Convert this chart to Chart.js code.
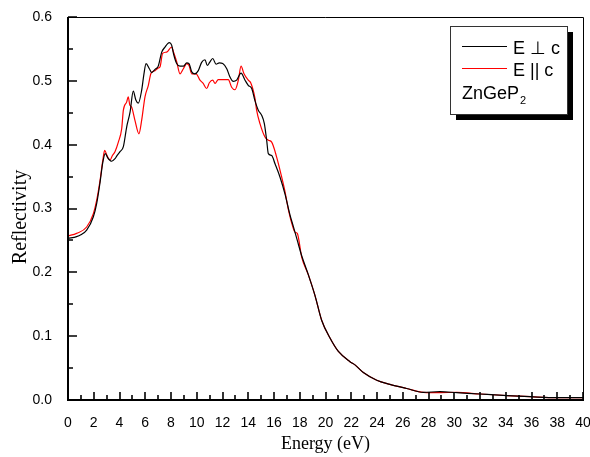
<!DOCTYPE html>
<html>
<head>
<meta charset="utf-8">
<title>ZnGeP2 reflectivity</title>
<script src="https://cdn.jsdelivr.net/npm/chart.js@4.4.1/dist/chart.umd.min.js"></script>
<style>
  html, body { margin: 0; padding: 0; background: #fff; }
  #wrap { width: 590px; height: 457px; }
</style>
</head>
<body>
<div id="wrap"><canvas id="refl" width="590" height="457"></canvas></div>
<script>
// E perpendicular to c
var energyPerp = [0, 0.67, 1.0, 1.45, 1.97, 2.23, 2.49, 2.7, 2.9, 3.1, 3.39, 3.65, 3.78, 4.04, 4.3, 4.56, 4.82, 5.07,
  5.27, 5.46, 5.72, 5.9, 6.06, 6.32, 6.5, 6.76, 7.01, 7.28, 7.5, 7.87, 8.05, 8.2, 8.44, 8.7, 8.96, 9.22, 9.4,
  9.61, 9.86, 10.12, 10.38, 10.64, 10.82, 11.0, 11.24, 11.5, 11.75, 12.02, 12.33, 12.58, 12.84, 13.1, 13.44,
  13.75, 14.0, 14.27, 14.52, 14.78, 15.04, 15.25, 15.43, 15.56, 15.82, 16.08, 16.47, 16.85, 17.24, 17.5, 17.81,
  18.15, 18.67, 19.18, 19.7, 20.35, 21.0, 21.9, 22.29, 22.94, 23.98, 25.0, 26.3, 27.6, 28.9, 30.2, 32.0, 34.1,
  35.9, 37.95, 40];
var reflPerp = [0.253, 0.256, 0.259, 0.266, 0.287, 0.308, 0.341, 0.372, 0.386, 0.379, 0.374, 0.378, 0.382, 0.389,
  0.397, 0.428, 0.451, 0.484, 0.470, 0.465, 0.485, 0.511, 0.527, 0.519, 0.513, 0.518, 0.523, 0.545, 0.552, 0.560,
  0.556, 0.542, 0.527, 0.523, 0.523, 0.528, 0.527, 0.514, 0.511, 0.516, 0.529, 0.533, 0.524, 0.529, 0.535, 0.526,
  0.528, 0.527, 0.519, 0.506, 0.499, 0.501, 0.512, 0.501, 0.493, 0.488, 0.469, 0.454, 0.446, 0.433, 0.407, 0.386,
  0.383, 0.370, 0.349, 0.323, 0.290, 0.272, 0.250, 0.226, 0.196, 0.164, 0.125, 0.097, 0.076, 0.060, 0.055, 0.043,
  0.031, 0.0245, 0.018, 0.012, 0.013, 0.0115, 0.0094, 0.007, 0.0052, 0.0036, 0.0036];

// E parallel to c
var energyPar = [0, 0.67, 1.45, 1.97, 2.23, 2.49, 2.7, 2.85, 3.05, 3.26, 3.45, 3.65, 3.91, 4.17, 4.3, 4.56, 4.68,
  4.8, 4.94, 5.2, 5.51, 5.72, 5.98, 6.24, 6.45, 6.76, 7.01, 7.15, 7.35, 7.66, 8.05, 8.18, 8.44, 8.7, 8.96, 9.22,
  9.4, 9.61, 9.95, 10.25, 10.5, 10.77, 10.98, 11.24, 11.42, 11.67, 12.06, 12.45, 12.71, 12.97, 13.23, 13.44,
  13.67, 14.0, 14.19, 14.52, 14.65, 14.91, 15.3, 15.56, 15.82, 16.2, 16.6, 16.85, 17.15, 17.45, 17.63, 17.81,
  18.15, 18.67, 19.18, 19.7, 20.35, 21.0, 21.9, 22.29, 22.94, 23.98, 25.0, 26.3, 27.6, 28.9, 30.2, 32.0, 34.1,
  35.9, 37.95, 40];
var reflPar = [0.257, 0.261, 0.271, 0.292, 0.313, 0.344, 0.375, 0.391, 0.382, 0.376, 0.383, 0.389, 0.404, 0.425,
  0.454, 0.467, 0.475, 0.462, 0.459, 0.438, 0.417, 0.438, 0.475, 0.493, 0.512, 0.516, 0.520, 0.522, 0.543, 0.545,
  0.553, 0.546, 0.530, 0.511, 0.519, 0.527, 0.524, 0.511, 0.511, 0.501, 0.496, 0.488, 0.497, 0.501, 0.496, 0.502,
  0.502, 0.502, 0.490, 0.486, 0.501, 0.523, 0.511, 0.501, 0.497, 0.473, 0.454, 0.433, 0.412, 0.407, 0.404, 0.381,
  0.349, 0.327, 0.295, 0.272, 0.263, 0.261, 0.224, 0.196, 0.164, 0.125, 0.097, 0.076, 0.060, 0.055, 0.043,
  0.031, 0.0245, 0.018, 0.012, 0.0115, 0.012, 0.0094, 0.007, 0.0052, 0.0036, 0.0036];

var seriesNames = ['E \u22A5 c', 'E || c'];
var sampleName = 'ZnGeP';
var xTitle = 'Energy (eV)';
var yTitle = 'Reflectivity';

function pairs(xs, ys) {
  return xs.map(function (x, i) { return { x: x, y: ys[i] }; });
}

function isMajor(v, step) {
  var r = v / step;
  return Math.abs(r - Math.round(r)) < 1e-6;
}

// frame, inward ticks, axis titles and the boxed legend
var decor = {
  id: 'decor',
  afterDatasetsDraw: function (chart) {
    var ctx = chart.ctx, a = chart.chartArea;
    var xs = chart.scales.x, ys = chart.scales.y;
    ctx.save();
    ctx.strokeStyle = '#000';

    // thin top and right border
    ctx.lineWidth = 1;
    ctx.beginPath();
    ctx.moveTo(a.left, a.top + 0.5);
    ctx.lineTo(a.right + 0.5, a.top + 0.5);
    ctx.lineTo(a.right + 0.5, a.bottom);
    ctx.stroke();

    // heavy left and bottom axes
    ctx.lineWidth = 2;
    ctx.beginPath();
    ctx.moveTo(a.left, a.top);
    ctx.lineTo(a.left, a.bottom);
    ctx.lineTo(a.right + 1, a.bottom);
    ctx.stroke();

    ctx.lineWidth = 1.6;
    ctx.beginPath();
    xs.ticks.forEach(function (t) {
      var px = Math.round(xs.getPixelForValue(t.value));
      var len = isMajor(t.value, 2) ? 8 : 5;
      ctx.moveTo(px, a.bottom);
      ctx.lineTo(px, a.bottom - len);
    });
    ys.ticks.forEach(function (t) {
      var py = Math.round(ys.getPixelForValue(t.value));
      var len = isMajor(t.value, 0.1) ? 9 : 5;
      ctx.moveTo(a.left, py);
      ctx.lineTo(a.left + len, py);
    });
    ctx.stroke();

    // axis titles
    ctx.fillStyle = '#000';
    ctx.font = '18px "Liberation Serif", "Times New Roman", serif';
    ctx.textAlign = 'center';
    ctx.textBaseline = 'alphabetic';
    ctx.fillText(xTitle, (a.left + a.right) / 2, 449);
    ctx.save();
    ctx.translate(26, 217);
    ctx.rotate(-Math.PI / 2);
    ctx.font = '20px "Liberation Serif", "Times New Roman", serif';
    ctx.fillText(yTitle, 0, 0);
    ctx.restore();

    // legend box with drop shadow
    var bx = 450, by = 26, bw = 117, bh = 88;
    ctx.fillStyle = '#000';
    ctx.fillRect(bx + 6, by + 6, bw, bh);
    ctx.fillStyle = '#fff';
    ctx.fillRect(bx, by, bw, bh);
    ctx.strokeStyle = '#333';
    ctx.lineWidth = 1;
    ctx.strokeRect(bx + 0.5, by + 0.5, bw, bh);

    var colors = ['#000000', '#ff0000'];
    var rows = [46.5, 68.5];
    ctx.font = '18px "Liberation Sans", Arial, sans-serif';
    ctx.textAlign = 'left';
    rows.forEach(function (y, i) {
      ctx.strokeStyle = colors[i];
      ctx.lineWidth = 1.2;
      ctx.beginPath();
      ctx.moveTo(462, y);
      ctx.lineTo(507, y);
      ctx.stroke();
      ctx.fillStyle = '#000';
      ctx.fillText(seriesNames[i], 513, y + 7);
    });
    ctx.fillText(sampleName, 462, 98.5);
    var w = ctx.measureText(sampleName).width;
    ctx.font = '11px "Liberation Sans", Arial, sans-serif';
    ctx.fillText('2', 462 + w + 1, 104);
    ctx.restore();
  }
};

var ctx = document.getElementById('refl').getContext('2d');
var reflChart = new Chart(ctx, {
  type: 'line',
  data: {
    datasets: [{
      label: seriesNames[0],
      data: pairs(energyPerp, reflPerp),
      borderColor: '#000000',
      borderWidth: 1.2,
      pointRadius: 0,
      cubicInterpolationMode: 'monotone',
      fill: false
    }, {
      label: seriesNames[1],
      data: pairs(energyPar, reflPar),
      borderColor: '#ff0000',
      borderWidth: 1.2,
      pointRadius: 0,
      cubicInterpolationMode: 'monotone',
      fill: false
    }]
  },
  options: {
    responsive: false,
    animation: false,
    layout: { padding: { top: 17, right: 7, left: 0, bottom: 0 } },
    plugins: { legend: { display: false }, tooltip: { enabled: false } },
    scales: {
      x: {
        type: 'linear',
        min: 0, max: 40,
        grid: { display: false },
        border: { display: false },
        afterFit: function (s) { s.height = 57; s.paddingLeft = 0; s.paddingRight = 0; },
        ticks: {
          stepSize: 1,
          autoSkip: false,
          maxRotation: 0,
          padding: 7,
          color: '#000',
          font: { family: '"Liberation Sans", Arial, sans-serif', size: 14 },
          callback: function (v) { return isMajor(v, 2) ? String(v) : ''; }
        }
      },
      y: {
        min: 0, max: 0.6,
        grid: { display: false },
        border: { display: false },
        afterFit: function (s) { s.width = 68; s.paddingTop = 0; s.paddingBottom = 0; },
        ticks: {
          stepSize: 0.05,
          autoSkip: false,
          padding: 8,
          color: '#000',
          font: { family: '"Liberation Sans", Arial, sans-serif', size: 14 },
          callback: function (v) { return isMajor(v, 0.1) ? v.toFixed(1) : ''; }
        }
      }
    }
  },
  plugins: [decor]
});
</script>
</body>
</html>
